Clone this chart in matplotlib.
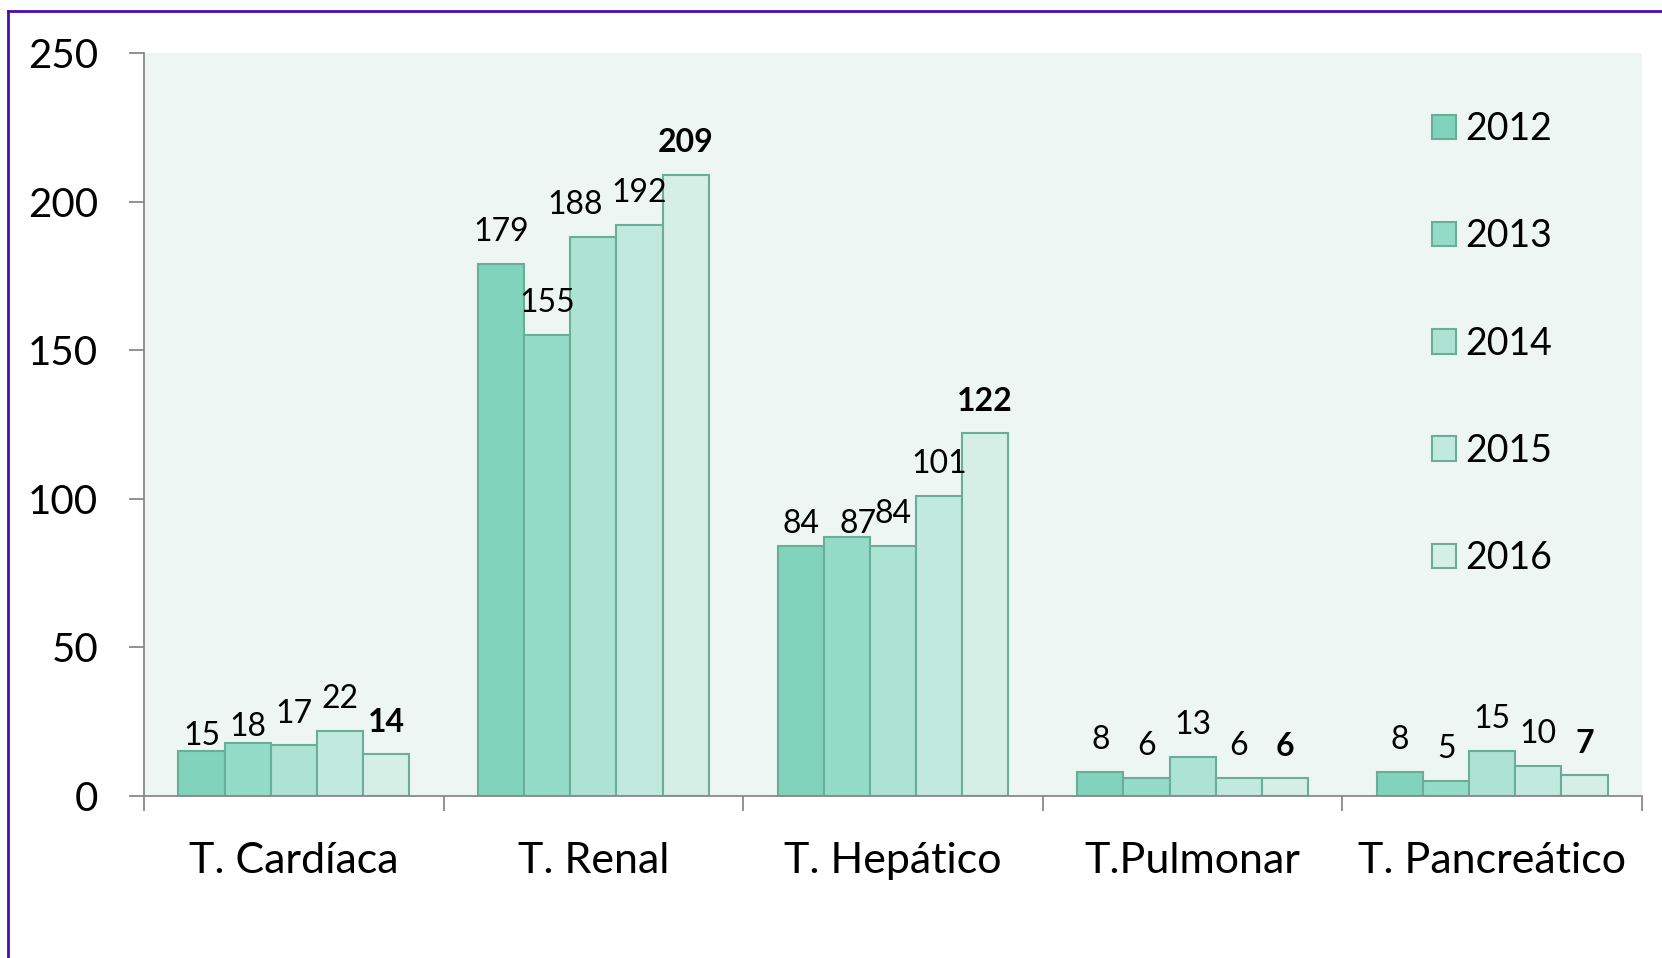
import numpy as np
import matplotlib
matplotlib.use('Agg')
import matplotlib.pyplot as plt
from matplotlib.lines import Line2D

plt.rcParams['font.family'] = ['Lato', 'DejaVu Sans']

# data
categories = ['T. Cardíaca', 'T. Renal', 'T. Hepático', 'T.Pulmonar', 'T. Pancreático']
years = ['2012', '2013', '2014', '2015', '2016']
v2012 = [15, 179, 84, 8, 8]
v2013 = [18, 155, 87, 6, 5]
v2014 = [17, 188, 84, 13, 15]
v2015 = [22, 192, 101, 6, 10]
v2016 = [14, 209, 122, 6, 7]
series = [v2012, v2013, v2014, v2015, v2016]

colors = ['#82d3bc', '#94dcc8', '#ade3d3', '#c2e9dd', '#d5efe6']
edge = '#6aae98'

# label nudges (series, category) -> (dx, dy) in points, like the hand-moved labels
nudge = {(0, 0): (0, -12), (1, 0): (0, -12), (0, 2): (0, -7),
         (1, 2): (8, -13), (2, 1): (-13, 0)}

fig = plt.figure(figsize=(16.62, 9.58), dpi=100)
ax = fig.add_axes([0.0866, 0.1691, 0.9014, 0.7756])
ax.set_facecolor('#edf6f3')

x = np.arange(len(categories))
w = 0.154
for i, vals in enumerate(series):
    pos = x + (i - 2) * w
    ax.bar(pos, vals, w, color=colors[i], edgecolor=edge, linewidth=1.5,
           label=years[i], zorder=2)
    for j, (px, v) in enumerate(zip(pos, vals)):
        dx, dy = nudge.get((i, j), (0, 0))
        ax.annotate(str(v), (px, v), xytext=(dx, 23 + dy), textcoords='offset points',
                    ha='center', va='center', fontsize=23,
                    fontweight='bold' if i == 4 else 'normal')

ax.set_xlim(-0.5, 4.5)
ax.set_ylim(0, 250)
ax.set_yticks([0, 50, 100, 150, 200, 250])
ax.set_xticks(np.arange(-0.5, 5, 1))
ax.set_xticklabels([])
ax.set_xticks(x, minor=True)
ax.set_xticklabels(categories, minor=True, fontsize=31)
ax.tick_params(axis='x', which='minor', length=0, pad=33)
ax.tick_params(axis='x', which='major', length=11, width=1.3, color='#898989')
ax.tick_params(axis='y', length=11, width=1.3, color='#898989', labelsize=29, pad=22)

for s in ['top', 'right']:
    ax.spines[s].set_visible(False)
for s in ['left', 'bottom']:
    ax.spines[s].set_color('#898989')
    ax.spines[s].set_linewidth(1.3)

ax.legend(loc='upper left', bbox_to_anchor=(0.850, 0.942), frameon=False,
          fontsize=27, labelspacing=1.9, handlelength=0.62, handleheight=0.62,
          handletextpad=0.25, borderaxespad=0)

# purple frame (top and left)
fig.add_artist(Line2D([8 / 1662, 1], [1 - 11 / 958, 1 - 11 / 958], color='#4c0ca8', lw=2))
fig.add_artist(Line2D([8 / 1662, 8 / 1662], [0, 1 - 11 / 958], color='#4c0ca8', lw=2))

fig.savefig('out.png', dpi=100)
